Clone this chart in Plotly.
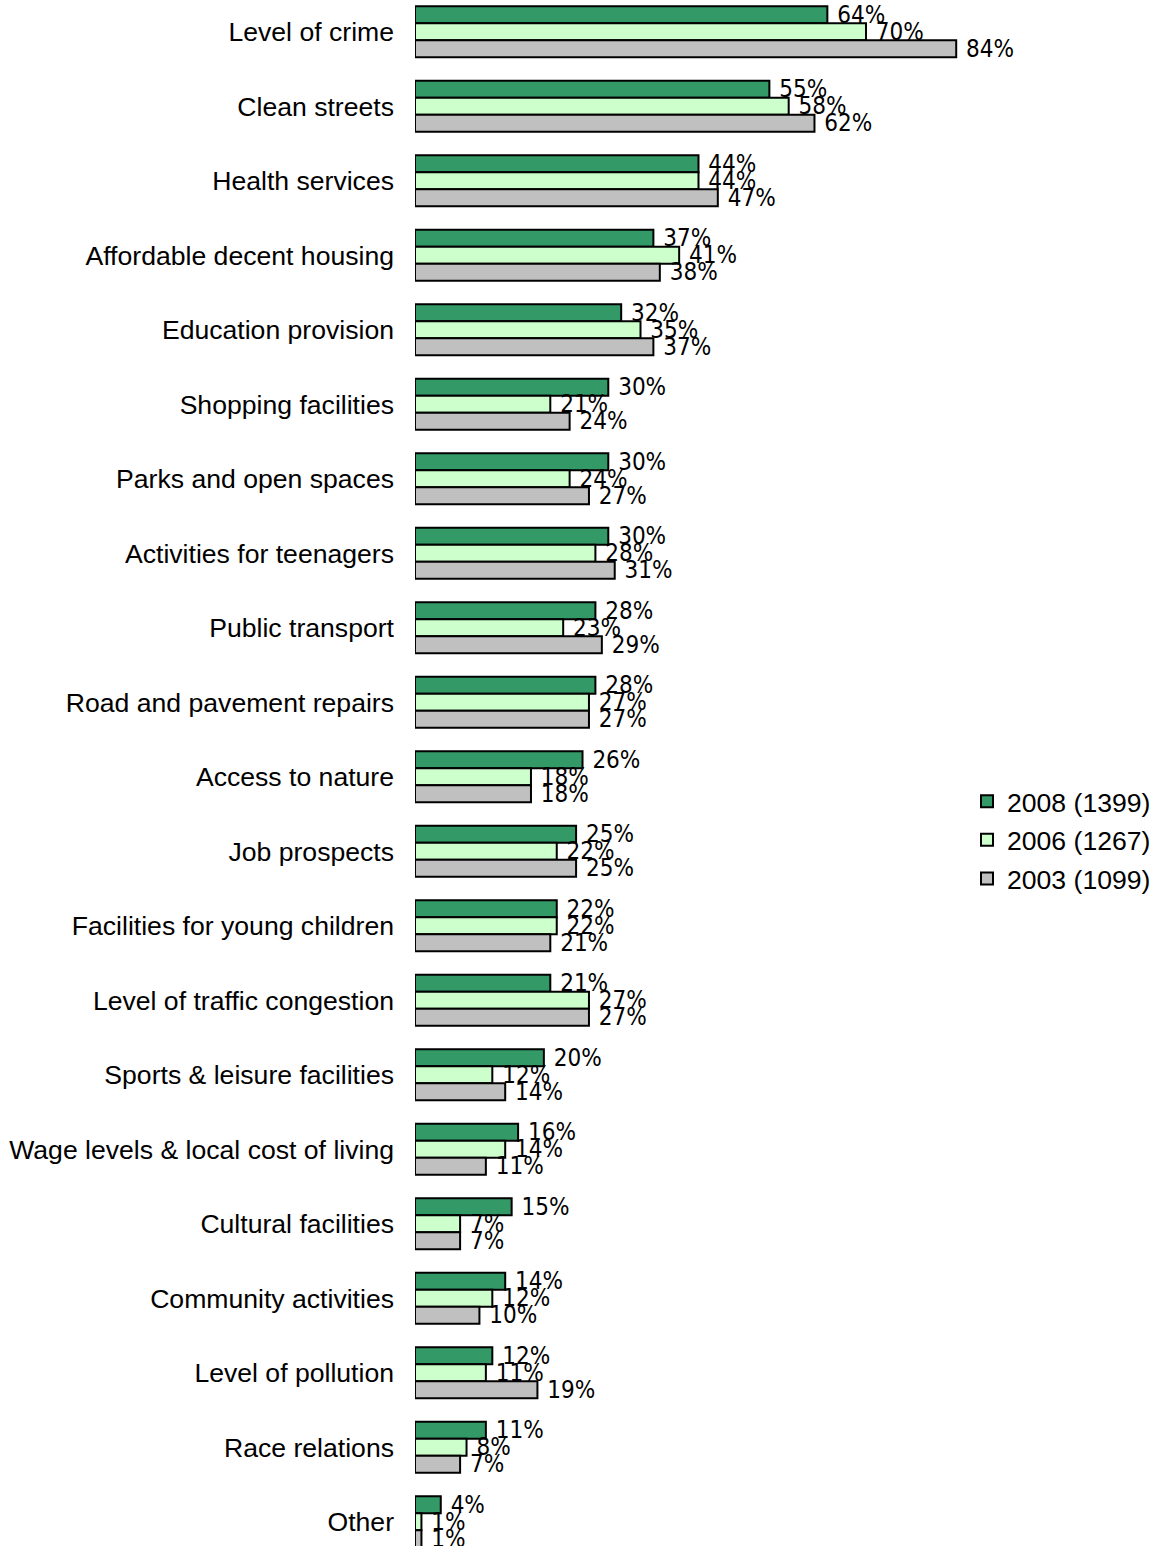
import plotly.graph_objects as go

categories = [
    "Level of crime", "Clean streets", "Health services", "Affordable decent housing",
    "Education provision", "Shopping facilities", "Parks and open spaces",
    "Activities for teenagers", "Public transport", "Road and pavement repairs",
    "Access to nature", "Job prospects", "Facilities for young children",
    "Level of traffic congestion", "Sports & leisure facilities",
    "Wage levels & local cost of living", "Cultural facilities",
    "Community activities", "Level of pollution", "Race relations", "Other",
]
values_2008 = [64, 55, 44, 37, 32, 30, 30, 30, 28, 28, 26, 25, 22, 21, 20, 16, 15, 14, 12, 11, 4]
values_2006 = [70, 58, 44, 41, 35, 21, 24, 28, 23, 27, 18, 22, 22, 27, 12, 14, 7, 12, 11, 8, 1]
values_2003 = [84, 62, 47, 38, 37, 24, 27, 31, 29, 27, 18, 25, 21, 27, 14, 11, 7, 10, 19, 7, 1]
series_names = ["2008 (1399)", "2006 (1267)", "2003 (1099)"]
series_colors = ["#339966", "#CCFFCC", "#C0C0C0"]

label_font = dict(family="Liberation Sans Narrow, DejaVu Sans Condensed, Arial Narrow, sans-serif",
                  size=24, color="#000000")

fig = go.Figure()
for name, vals, color in zip(series_names, [values_2008, values_2006, values_2003], series_colors):
    fig.add_trace(go.Bar(
        y=categories, x=vals, orientation="h", name=name, legendgroup=name,
        marker=dict(color=color, line=dict(color="#000000", width=2)),
        texttemplate=" %{x}%", textposition="outside", textfont=label_font,
        constraintext="none", cliponaxis=False,
    ))

width, height = 1160, 1546
left, right = 415, 191
px_per_pct = 6.443
fig.update_layout(
    width=width, height=height,
    margin=dict(l=left, r=right, t=0, b=0, autoexpand=False),
    paper_bgcolor="white", plot_bgcolor="white",
    barmode="group", bargap=0.315, bargroupgap=0,
    font=dict(family="Liberation Sans, Arial, sans-serif", size=26.6, color="#000000"),
    xaxis=dict(range=[0, (width - left - right) / px_per_pct], visible=False),
    yaxis=dict(type="category", range=[20.326, -0.4255], showgrid=False,
               showline=False, zeroline=False, ticks="", ticklabelstandoff=20,
               tickfont=dict(size=26.6)),
    legend=dict(xref="container", yref="container", x=967 / width, y=1 - 840 / height,
                xanchor="left", yanchor="middle", font=dict(size=26.6),
                tracegroupgap=1, traceorder="grouped", bgcolor="rgba(0,0,0,0)"),
    showlegend=True,
)

fig.write_html("out.html")
